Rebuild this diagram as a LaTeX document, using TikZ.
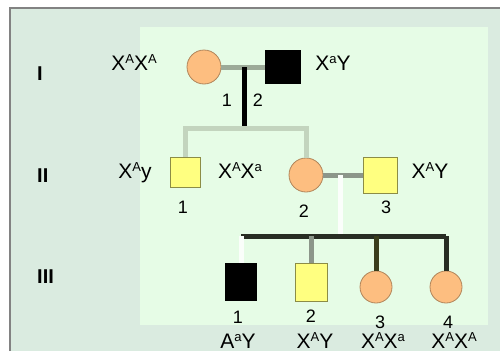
\documentclass[tikz,border=0pt]{standalone}
\usepackage{fontspec}
\setmainfont{Liberation Sans}
\usepackage{tikz}
\usetikzlibrary{positioning, calc}

\definecolor{fondo}{RGB}{218,235,224}
\definecolor{interior}{RGB}{230,252,230}
\definecolor{marco}{RGB}{130,130,130}
\definecolor{melocoton}{RGB}{253,190,128}
\definecolor{amarillo}{RGB}{255,255,128}
\definecolor{lclara}{RGB}{195,212,190}
\definecolor{lmedia}{RGB}{140,150,138}
\definecolor{loscura}{RGB}{40,45,35}

% superindice del alelo
\newcommand{\alelo}[1]{\raisebox{6.5pt}{\fontsize{13}{13}\selectfont #1}}

\tikzset{
  mujer/.style={circle, minimum size=34pt, inner sep=0pt, fill=melocoton, draw=melocoton!70!black, line width=0.8pt},
  hombre/.style={rectangle, minimum width=32pt, minimum height=34pt, inner sep=0pt, fill=amarillo, draw=amarillo!55!black, line width=0.8pt},
  afectado/.style={rectangle, minimum width=34pt, minimum height=34pt, inner sep=0pt, fill=black},
  genotipo/.style={font=\fontsize{21}{24}\selectfont, anchor=base, inner sep=0pt},
  numero/.style={font=\fontsize{18}{22}\selectfont, anchor=base, inner sep=0pt},
  generacion/.style={font=\fontsize{20}{24}\selectfont\bfseries, anchor=base west, inner sep=0pt},
  linea/.style={line width=5pt}
}

\begin{document}
\begin{tikzpicture}[x=1pt, y=-1pt]
  \useasboundingbox (0,0) rectangle (500,351);

  % Fondo y marco
  \fill[fondo] (10,8) rectangle (500,351);
  \draw[marco, line width=2pt] (10,351) -- (10,8) -- (500,8);
  \fill[interior] (140,27) rectangle (488,325);

  % Generaciones
  \node (gI) [generacion] at (37,80) {I};
  \node (gII) [generacion] at (37,182) {II};
  \node (gIII) [generacion] at (37,283) {III};

  % Generacion I
  \node (I1) [mujer] at (204,67) {};
  \node (I2) [afectado, minimum width=36pt] at (283,67) {};
  \node (tI1) [genotipo] at (134,70) {X\alelo{A}X\alelo{A}};
  \node (tI2) [genotipo] at (333,70) {X\alelo{a}Y};
  \node (nI1) [numero] at (227,106) {1};
  \node (nI2) [numero] at (258,106) {2};

  % Generacion II
  \node (II1) [hombre, minimum width=30pt, minimum height=30pt] at (185,172) {};
  \node (II2) [mujer] at (306,175) {};
  \node (II3) [hombre, minimum width=34pt, minimum height=36pt] at (380,175) {};
  \node (tII1) [genotipo] at (135,178) {X\alelo{A}y};
  \node (tII1b) [genotipo] at (240,178) {X\alelo{A}X\alelo{a}};
  \node (tII3) [genotipo] at (430,178) {X\alelo{A}Y};
  \node (nII1) [numero] at (183,213) {1};
  \node (nII2) [numero] at (304,217) {2};
  \node (nII3) [numero] at (386,213) {3};

  % Generacion III
  \node (III1) [afectado, minimum width=32pt, minimum height=38pt] at (241,282) {};
  \node (III2) [hombre, minimum height=38pt] at (311,282) {};
  \node (III3) [mujer, minimum size=32pt] at (376,287) {};
  \node (III4) [mujer, minimum size=32pt] at (446,287) {};
  \node (nIII1) [numero] at (238,323) {1};
  \node (nIII2) [numero] at (311,322) {2};
  \node (nIII3) [numero] at (380,328) {3};
  \node (nIII4) [numero] at (448,328) {4};
  \node (tIII1) [genotipo] at (238,348) {A\alelo{a}Y};
  \node (tIII2) [genotipo] at (315,348) {X\alelo{A}Y};
  \node (tIII3) [genotipo] at (383,348) {X\alelo{A}X\alelo{a}};
  \node (tIII4) [genotipo] at (454,348) {X\alelo{A}X\alelo{A}};

  % Puntos de union
  \coordinate (p1) at (244,67);
  \coordinate (h1) at (244,128);
  \coordinate (p2) at (340,175);
  \coordinate (h2) at (340,236);

  % Conexiones
  \draw [linea, lclara!80!black] (I1) -- (I2);
  \draw [linea, black] (p1) -- (h1);
  \draw [linea, lclara] (II1.north) |- (h1) -| (II2.north);
  \draw [linea, lmedia] (II2) -- (II3);
  \draw [linea, white!85!interior] (p2) -- (h2);
  \draw [linea, loscura] (III1.north |- h2) -- (III4.north |- h2);
  \draw [linea, white!80!interior] (III1.north) -- (III1.north |- h2);
  \draw [linea, lmedia] (III2.north) -- (III2.north |- h2);
  \draw [linea, loscura!80!olive] (III3.north) -- (III3.north |- h2);
  \draw [linea, loscura] (III4.north) -- (III4.north |- h2);
\end{tikzpicture}
\end{document}
